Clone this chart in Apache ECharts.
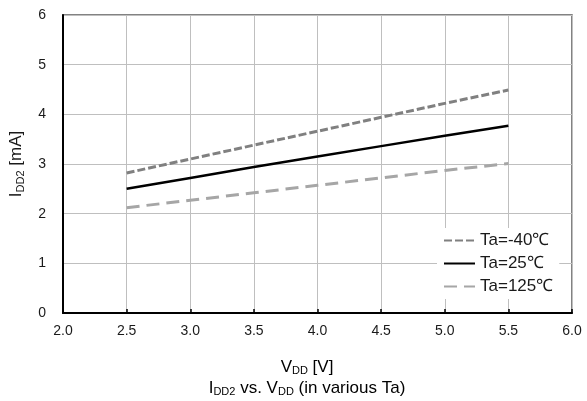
<!DOCTYPE html>
<html><head><meta charset="utf-8">
<script src="https://cdn.jsdelivr.net/npm/echarts@6/dist/echarts.min.js"></script>
<style>html,body{margin:0;padding:0;background:#fff}#c{width:587px;height:401px}</style>
</head><body><div id="c"></div>
<script>
const vdd = [2.5, 3.0, 3.5, 4.0, 4.5, 5.0, 5.5];
const taM40 = [2.82, 3.10, 3.38, 3.66, 3.94, 4.22, 4.49];
const ta25 = [2.50, 2.72, 2.94, 3.15, 3.36, 3.57, 3.77];
const ta125 = [2.12, 2.27, 2.42, 2.57, 2.72, 2.87, 3.01];
const seriesNames = ['Ta=-40℃', 'Ta=25℃', 'Ta=125℃'];

const pair = (xs, ys) => xs.map((x, i) => [x, ys[i]]);
const font = '"Liberation Sans", Arial, sans-serif';
const txt = '#1a1a1a';
const rich = (m, s, pad) => ({
  m: { fontSize: m, color: txt, fontFamily: font, fontWeight: 'normal' },
  s: { fontSize: s, color: txt, fontFamily: font, fontWeight: 'normal', padding: [pad, 0, 0, 0] }
});
const chart = echarts.init(document.getElementById('c'));
chart.setOption({
  animation: false,
  textStyle: { fontFamily: font },
  grid: { left: 63, right: 15, top: 15, bottom: 88, show: true, borderColor: '#595959', borderWidth: 1.5, containLabel: false },
  graphic: [
    { type: 'text', x: 307, y: 367, style: { text: '{m|V}{s|DD}{m| [V]}', rich: rich(17, 11, 8), align: 'center', verticalAlign: 'middle' } },
    { type: 'text', x: 307, y: 388, style: { text: '{m|I}{s|DD2}{m| vs. V}{s|DD}{m| (in various Ta)}', rich: rich(17, 11, 8), align: 'center', verticalAlign: 'middle' } }
  ],
  legend: {
    left: 437, top: 228, orient: 'vertical', backgroundColor: '#fff',
    itemWidth: 31, itemHeight: 14, itemGap: 6, padding: [4, 6, 4, 6],
    itemStyle: { opacity: 0 },
    textStyle: { fontSize: 17, color: txt, fontFamily: font },
    data: seriesNames
  },
  xAxis: {
    type: 'value', min: 2.0, max: 6.0, interval: 0.5,
    axisLine: { lineStyle: { color: '#000', width: 2 } },
    axisTick: { show: true, inside: true, length: 4, lineStyle: { color: '#000', width: 1.5 } },
    axisLabel: { fontSize: 14, color: txt, margin: 11, formatter: v => v.toFixed(1) },
    splitLine: { show: true, lineStyle: { color: '#BFBFBF', width: 1 } }
  },
  yAxis: {
    type: 'value', min: 0, max: 6, interval: 1,
    name: '{m|I}{s|DD2}{m| [mA]}', nameLocation: 'middle', nameGap: 37, nameRotate: 90,
    nameTextStyle: { rich: rich(17, 11, 8) },
    axisLine: { show: true, lineStyle: { color: '#000', width: 2 } },
    axisTick: { show: false },
    axisLabel: { fontSize: 14, color: txt, margin: 17 },
    splitLine: { show: true, lineStyle: { color: '#BFBFBF', width: 1 } }
  },
  series: [
    { name: seriesNames[0], type: 'line', symbol: 'none', data: pair(vdd, taM40),
      lineStyle: { color: '#808080', width: 3, type: [8, 3] }, itemStyle: { color: '#808080' } },
    { name: seriesNames[1], type: 'line', symbol: 'none', data: pair(vdd, ta25),
      lineStyle: { color: '#000', width: 2.5 }, itemStyle: { color: '#000' } },
    { name: seriesNames[2], type: 'line', symbol: 'none', data: pair(vdd, ta125),
      lineStyle: { color: '#A6A6A6', width: 3, type: [13, 7] }, itemStyle: { color: '#A6A6A6' } }
  ]
});
</script></body></html>
